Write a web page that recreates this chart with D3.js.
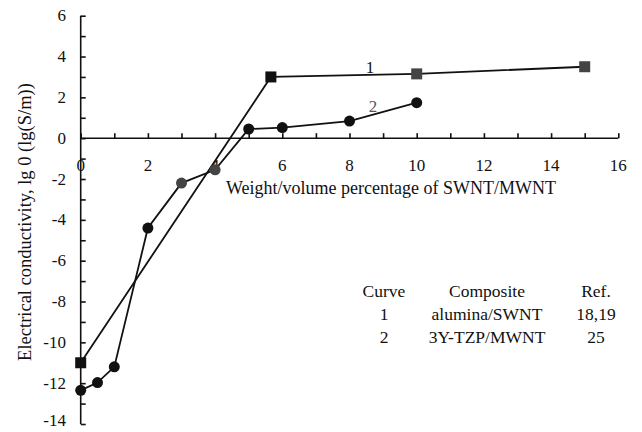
<!DOCTYPE html>
<html>
<head>
<meta charset="utf-8">
<script src="https://cdn.jsdelivr.net/npm/d3@7/dist/d3.min.js"></script>
<style>
  body { margin: 0; background: #fff; }
  svg text { font-family: "Liberation Serif", "Times New Roman", serif; fill: #111; }
</style>
</head>
<body>
<div id="chart"></div>
<script>
// curve 1: alumina/SWNT
const curve1X = [0, 5.66, 10, 15];
const curve1Y = [-11, 3.0, 3.15, 3.5];
// curve 2: 3Y-TZP/MWNT
const curve2X = [0, 0.5, 1, 2, 3, 4, 5, 6, 8, 10];
const curve2Y = [-12.35, -11.97, -11.2, -4.4, -2.2, -1.55, 0.45, 0.52, 0.84, 1.74];

const xTicks = [0, 2, 4, 6, 8, 10, 12, 14, 16];
const yTicks = [6, 4, 2, 0, -2, -4, -6, -8, -10, -12, -14];

const legendHead = ["Curve", "Composite", "Ref."];
const legendRows = [["1", "alumina/SWNT", "18,19"], ["2", "3Y-TZP/MWNT", "25"]];

const width = 642, height = 432;
let svg = d3.select("#chart").append("svg")
  .attr("width", width)
  .attr("height", height);

let x = d3.scaleLinear().domain([0, 16]).range([80.7, 618.3]);
let y = d3.scaleLinear().domain([-14, 6]).range([424, 15.7]);

// y axis, ticks inside (to the right)
let yAxis = svg.append("g")
  .attr("transform", "translate(" + x(0) + ",0)")
  .call(d3.axisRight(y).tickValues(d3.range(-14, 7, 1)).tickSize(5).tickFormat(""));
yAxis.select(".domain").attr("d", "M0," + y(6) + "V" + y(-14));
yAxis.selectAll("line, path").attr("stroke", "#111").attr("stroke-width", 1.6);

// keep the bottom label inside the picture
svg.append("g").selectAll("text")
  .data(yTicks)
  .enter().append("text")
  .attr("x", 66)
  .attr("y", d => Math.min(y(d), height - 12))
  .attr("dy", "0.33em")
  .attr("text-anchor", "end")
  .attr("font-size", 17)
  .text(d => d);

// x axis along y = 0, ticks pointing up
let xAxis = svg.append("g")
  .attr("transform", "translate(0," + y(0) + ")")
  .call(d3.axisTop(x).tickValues(d3.range(0, 17, 1)).tickSize(5).tickFormat(""));
xAxis.select(".domain").attr("d", "M" + x(0) + ",0H" + x(16));
xAxis.selectAll("line, path").attr("stroke", "#111").attr("stroke-width", 1.6);

svg.append("g").selectAll("text")
  .data(xTicks)
  .enter().append("text")
  .attr("x", d => x(d))
  .attr("y", y(0) + 33)
  .attr("text-anchor", "middle")
  .attr("font-size", 17)
  .text(d => d);

// axis titles
svg.append("text")
  .attr("x", 391)
  .attr("y", 194)
  .attr("text-anchor", "middle")
  .attr("font-size", 18)
  .text("Weight/volume percentage of SWNT/MWNT");

svg.append("text")
  .attr("transform", "translate(31,222) rotate(-90)")
  .attr("text-anchor", "middle")
  .attr("font-size", 18.5)
  .text("Electrical conductivity, lg 0 (lg(S/m))");

// curves
let line = d3.line().x(d => x(d[0])).y(d => y(d[1]));
let pts1 = curve1X.map((v, i) => [v, curve1Y[i]]);
let pts2 = curve2X.map((v, i) => [v, curve2Y[i]]);

svg.append("path").datum(pts1)
  .attr("d", line).attr("fill", "none")
  .attr("stroke", "#111").attr("stroke-width", 1.8);
svg.append("path").datum(pts2)
  .attr("d", line).attr("fill", "none")
  .attr("stroke", "#111").attr("stroke-width", 1.8);

svg.append("g").selectAll("rect")
  .data(pts1)
  .enter().append("rect")
  .attr("x", d => x(d[0]) - 5.5)
  .attr("y", d => y(d[1]) - 5.5)
  .attr("width", 11)
  .attr("height", 11)
  .attr("fill", d => d[0] >= 10 ? "#444" : "#111");

svg.append("g").selectAll("circle")
  .data(pts2)
  .enter().append("circle")
  .attr("cx", d => x(d[0]))
  .attr("cy", d => y(d[1]))
  .attr("r", 5.5)
  .attr("fill", d => (d[0] == 3 || d[0] == 4) ? "#444" : "#111");

// curve numbers
svg.append("text").attr("x", 370).attr("y", 73)
  .attr("text-anchor", "middle").attr("font-size", 17).text("1");
svg.append("text").attr("x", 373).attr("y", 112)
  .attr("text-anchor", "middle").attr("font-size", 17)
  .style("fill", "#555").text("2");

// legend table
let cols = [384, 487, 596];
let tbl = svg.append("g").attr("font-size", 17.5);
tbl.selectAll(".head")
  .data(legendHead)
  .enter().append("text")
  .attr("x", (d, i) => cols[i])
  .attr("y", 297)
  .attr("text-anchor", "middle")
  .text(d => d);
legendRows.forEach((row, r) => {
  tbl.selectAll(".row" + r)
    .data(row)
    .enter().append("text")
    .attr("x", (d, i) => cols[i])
    .attr("y", 320 + r * 23)
    .attr("text-anchor", "middle")
    .text(d => d);
});
</script>
</body>
</html>
